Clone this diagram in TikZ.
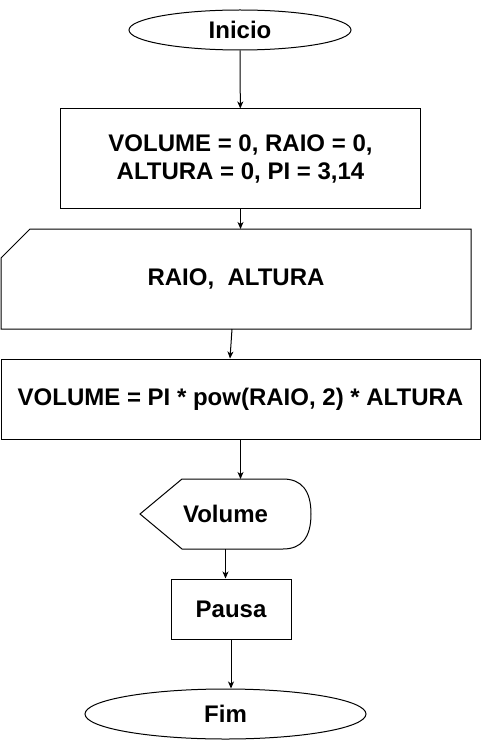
\documentclass[tikz,border=0pt]{standalone}
\usepackage{fontspec}
\setmainfont{Liberation Sans}
\usetikzlibrary{shapes.geometric,arrows.meta,calc}
\begin{document}
\begin{tikzpicture}[x=1pt,y=-1pt,line width=1pt,
  txt/.style={font=\fontsize{24}{28.5}\selectfont\bfseries,align=center,inner sep=0pt},
  term/.style={ellipse,draw,txt},
  proc/.style={rectangle,draw,txt},
  frame/.style={txt,outer sep=0pt},
  arr/.style={-{Stealth[length=7pt,width=6pt,inset=2pt]}}]
\useasboundingbox (0,0) rectangle (482,743);
\fill[white] (0,0) rectangle (482,743);

\node[term,minimum width=222pt,minimum height=40pt] (inicio) at (240,30) {Inicio};
\node[proc,minimum width=360pt,minimum height=100pt] (init) at (240.5,159) {VOLUME = 0, RAIO = 0,\\ALTURA = 0, PI = 3,14};
\node[frame,minimum width=470pt,minimum height=100pt] (input) at (236,279) {RAIO,\ \ ALTURA};
\draw ($(input.north west)+(29,0)$) -- (input.north east) -- (input.south east) -- (input.south west) -- ($(input.north west)+(0,29)$) -- cycle;
\node[proc,minimum width=479pt,minimum height=80pt] (calc) at (240.5,399) {VOLUME = PI * pow(RAIO, 2) * ALTURA};
\node[frame,minimum width=171pt,minimum height=70pt] (disp) at (225.5,514) {Volume};
\draw (disp.west) -- ($(disp.north west)+(42,0)$) -- ($(disp.north east)+(-28,0)$)
  .. controls ($(disp.north east)+(-9.3,0)$) and ($(disp.north east)+(0,11.7)$) .. (disp.east)
  .. controls ($(disp.south east)+(0,-11.7)$) and ($(disp.south east)+(-9.3,0)$) .. ($(disp.south east)+(-28,0)$)
  -- ($(disp.south west)+(42,0)$) -- cycle;
\node[proc,minimum width=120pt,minimum height=60pt] (pausa) at (231,609) {Pausa};
\node[term,minimum width=281pt,minimum height=50pt] (fim) at (225.5,714) {Fim};

\draw[arr] (inicio) -- (init);
\draw[arr] (init.south) -- (init.south |- input.north);
\draw[arr] ($(input.south)+(-4,0)$) -- ($(calc.north)+(-10.5,0)$);
\draw[arr] (calc.south) -- (calc.south |- disp.north);
\draw[arr] (disp.south) -- (disp.south |- pausa.north);
\draw[arr] (pausa.south) -- (pausa.south |- fim.north);
\end{tikzpicture}
\end{document}
